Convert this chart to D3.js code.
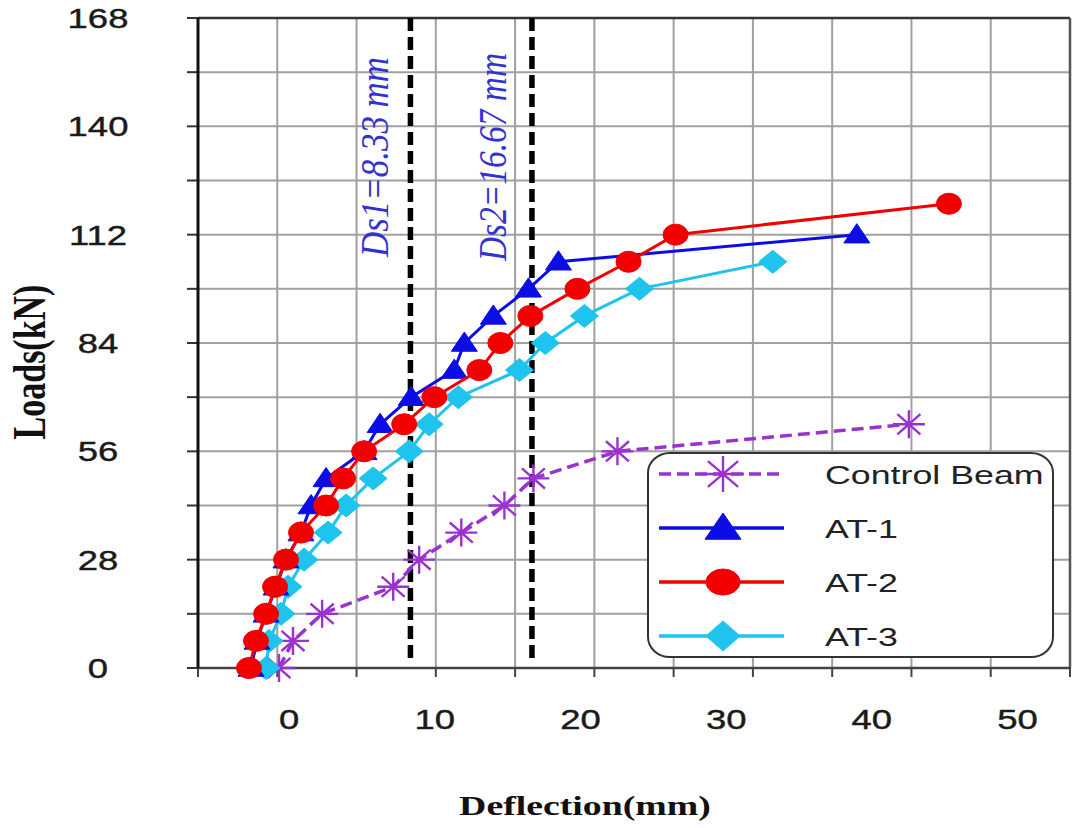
<!DOCTYPE html>
<html><head><meta charset="utf-8">
<script src="https://cdn.jsdelivr.net/npm/d3@7"></script>
<style>body{margin:0;background:#fff}svg{display:block}</style>
</head><body><svg id="c" width="1083" height="828"></svg>
<script>
// ---- data ----
const xTickLabels = [0, 10, 20, 30, 40, 50];
const yTickLabels = [0, 28, 56, 84, 112, 140, 168];
const yGridStep = 14;
const xGridCount = 11;
const dsValues = [8.33, 16.67];
const dsLabels = ["Ds1=8.33 mm", "Ds2=16.67 mm"];

const seriesNames = ["Control Beam", "AT-1", "AT-2", "AT-3"];
const loadsControl = [0, 7, 14, 21, 28, 35, 42, 49, 56, 63];
const deflControl  = [-0.69, 0.27, 2.27, 7.15, 8.93, 11.82, 14.78, 16.77, 22.54, 42.54];
const loadsAT1 = [0, 7, 14, 21, 28, 35, 42, 49, 56, 63, 70, 77, 84, 91, 98, 105, 112];
const deflAT1  = [-2.61, -2.20, -1.58, -0.89, -0.21, 0.82, 1.51, 2.54, 5.15, 6.25, 8.38, 11.34, 12.03, 14.02, 16.43, 18.49, 38.97];
const loadsAT2 = [0, 7, 14, 21, 28, 35, 42, 49, 56, 63, 70, 77, 84, 91, 98, 105, 112, 120];
const deflAT2  = [-2.75, -2.27, -1.58, -0.96, -0.21, 0.82, 2.54, 3.71, 5.15, 7.90, 9.97, 13.06, 14.50, 16.56, 19.79, 23.30, 26.53, 45.29];
const loadsAT3 = [0, 7, 14, 21, 28, 35, 42, 49, 56, 63, 70, 77, 84, 91, 98, 105];
const deflAT3  = [-1.58, -1.37, -0.55, -0.07, 1.03, 2.68, 3.92, 5.77, 8.25, 9.62, 11.62, 15.81, 17.59, 20.27, 24.05, 33.20];

const xDomain = [-6.25, 53.6];
const yDomain = [0, 168];

// ---- layout ----
const L = 198, R = 1070, T = 18, B = 668;
const SX = 1.35; // horizontal stretch of the original image
const svg = d3.select("#c");
svg.append("rect").attr("width", 1083).attr("height", 828).attr("fill", "#fff");

const x = d3.scaleLinear().domain(xDomain).range([L, R]);
const y = d3.scaleLinear().domain(yDomain).range([B, T]);
const gx = d3.scaleLinear().domain([0, xGridCount]).range([L, R]);

// grid
const yGrid = d3.range(yDomain[0], yDomain[1] + 0.1, yGridStep);
const xGrid = d3.range(0, xGridCount + 1);
svg.append("g").selectAll("line").data(yGrid).join("line")
  .attr("x1", L).attr("x2", R).attr("y1", d => y(d)).attr("y2", d => y(d))
  .attr("stroke", "#a0a0a0").attr("stroke-width", 2);
svg.append("g").selectAll("line").data(xGrid).join("line")
  .attr("x1", d => gx(d)).attr("x2", d => gx(d)).attr("y1", T).attr("y2", B)
  .attr("stroke", "#a0a0a0").attr("stroke-width", 2);

// ticks
svg.append("g").selectAll("line").data(yGrid).join("line")
  .attr("x1", L - 11).attr("x2", L).attr("y1", d => y(d)).attr("y2", d => y(d))
  .attr("stroke", "#333").attr("stroke-width", 2);
svg.append("g").selectAll("line").data(xGrid).join("line")
  .attr("x1", d => gx(d)).attr("x2", d => gx(d)).attr("y1", B).attr("y2", B + 9)
  .attr("stroke", "#444").attr("stroke-width", 2);

// frame
svg.append("line").attr("x1", L).attr("x2", R).attr("y1", T).attr("y2", T).attr("stroke", "#333").attr("stroke-width", 2.5);
svg.append("line").attr("x1", R).attr("x2", R).attr("y1", T).attr("y2", B).attr("stroke", "#555").attr("stroke-width", 2.5);
svg.append("line").attr("x1", L).attr("x2", R).attr("y1", B).attr("y2", B).attr("stroke", "#444").attr("stroke-width", 2.5);
svg.append("line").attr("x1", L).attr("x2", L).attr("y1", T).attr("y2", B).attr("stroke", "#111").attr("stroke-width", 3);

// tick labels
const tickFont = "'Liberation Sans', Arial, sans-serif";
svg.append("g").selectAll("text").data(yTickLabels).join("text")
  .attr("transform", d => `translate(98,${y(d) + 10}) scale(${SX},1)`)
  .attr("text-anchor", "middle").attr("font-family", tickFont).attr("font-size", 27)
  .attr("fill", "#1a1a1a").attr("stroke", "#1a1a1a").attr("stroke-width", 0.4).text(d => d);
svg.append("g").selectAll("text").data(xTickLabels).join("text")
  .attr("transform", d => `translate(${x(d)},729) scale(${SX},1)`)
  .attr("text-anchor", "middle").attr("font-family", tickFont).attr("font-size", 27)
  .attr("fill", "#1a1a1a").attr("stroke", "#1a1a1a").attr("stroke-width", 0.4).text(d => d);

// axis titles
const serif = "'Liberation Serif', 'Times New Roman', serif";
svg.append("text").attr("transform", `translate(585,815) scale(${SX},1)`)
  .attr("text-anchor", "middle").attr("font-family", serif).attr("font-weight", "bold")
  .attr("font-size", 28).attr("fill", "#111").text("Deflection(mm)");
svg.append("text").attr("transform", `translate(30,362) scale(${SX},1) rotate(-90)`)
  .attr("text-anchor", "middle").attr("dominant-baseline", "central")
  .attr("font-family", serif).attr("font-weight", "bold")
  .attr("font-size", 34).attr("fill", "#111").text("Loads(kN)");

// Ds lines
svg.append("g").selectAll("line").data(dsValues).join("line")
  .attr("x1", d => x(d)).attr("x2", d => x(d)).attr("y1", T).attr("y2", 658)
  .attr("stroke", "#000").attr("stroke-width", 5.5).attr("stroke-dasharray", "13,6");
const dsLabelX = [-36, -40];
svg.append("g").selectAll("text").data(dsLabels).join("text")
  .attr("transform", (d, i) => `translate(${x(dsValues[i]) + dsLabelX[i]},157) scale(${SX},1) rotate(-90)`)
  .attr("text-anchor", "middle").attr("dominant-baseline", "central")
  .attr("font-family", serif).attr("font-style", "italic").attr("font-size", 29)
  .attr("fill", "#3232d2").attr("textLength", (d, i) => i === 0 ? 200 : 208).attr("lengthAdjust", "spacingAndGlyphs")
  .text(d => d);

// markers
function markerPath(type, rx, ry) {
  if (type === "star") {
    const a = rx * 0.72, b = ry * 0.72;
    return `M${-rx},0L${rx},0M0,${-ry}L0,${ry}M${-a},${-b}L${a},${b}M${-a},${b}L${a},${-b}`;
  }
  if (type === "triangle") return `M0,${-ry}L${rx},${ry * 0.75}L${-rx},${ry * 0.75}Z`;
  if (type === "diamond") return `M0,${-ry}L${rx},0L0,${ry}L${-rx},0Z`;
  return `M${-rx},0A${rx},${ry} 0 1,0 ${rx},0A${rx},${ry} 0 1,0 ${-rx},0Z`;
}

const series = [
  { name: seriesNames[0], xs: deflControl, ys: loadsControl, color: "#9a32d0", dash: "12,6", marker: "star", size: [16, 14], lsize: [21, 18] },
  { name: seriesNames[1], xs: deflAT1, ys: loadsAT1, color: "#0c0ce6", dash: null, marker: "triangle", size: [13, 11], lsize: [18, 15] },
  { name: seriesNames[2], xs: deflAT2, ys: loadsAT2, color: "#f20000", dash: null, marker: "circle", size: [12.5, 10.5], lsize: [17, 13] },
  { name: seriesNames[3], xs: deflAT3, ys: loadsAT3, color: "#1ec3ee", dash: null, marker: "diamond", size: [14, 11.5], lsize: [17, 15] }
];
const drawOrder = [0, 3, 1, 2];
const line = d3.line().x(d => x(d[0])).y(d => y(d[1]));
drawOrder.forEach(i => {
  const s = series[i];
  const pts = s.xs.map((v, k) => [v, s.ys[k]]);
  const g = svg.append("g");
  g.append("path").attr("d", line(pts)).attr("fill", "none")
    .attr("stroke", s.color).attr("stroke-width", s.marker === "star" ? 3.5 : 3)
    .attr("stroke-dasharray", s.dash);
  g.selectAll("path.m").data(pts).join("path").attr("class", "m")
    .attr("transform", d => `translate(${x(d[0])},${y(d[1])})`)
    .attr("d", markerPath(s.marker, s.size[0], s.size[1]))
    .attr("fill", s.marker === "star" ? "none" : s.color)
    .attr("stroke", s.color).attr("stroke-width", s.marker === "star" ? 2.4 : 1);
});

// legend
const lg = svg.append("g");
lg.append("rect").attr("x", 648).attr("y", 453).attr("width", 405).attr("height", 204)
  .attr("rx", 22).attr("ry", 20).attr("fill", "#fff").attr("stroke", "#333").attr("stroke-width", 2);
const rowY = d3.scaleLinear().domain([0, 3]).range([474, 636]);
series.forEach((s, i) => {
  const yy = rowY(i);
  lg.append("line").attr("x1", 659).attr("x2", 784).attr("y1", yy).attr("y2", yy)
    .attr("stroke", s.color).attr("stroke-width", 3.5).attr("stroke-dasharray", s.dash);
  lg.append("path").attr("transform", `translate(723,${yy})`)
    .attr("d", markerPath(s.marker, s.lsize[0], s.lsize[1]))
    .attr("fill", s.marker === "star" ? "none" : s.color)
    .attr("stroke", s.color).attr("stroke-width", s.marker === "star" ? 2.4 : 1);
  lg.append("text").attr("transform", `translate(825,${yy + 10}) scale(${SX},1)`)
    .attr("font-family", tickFont).attr("font-size", 26.5).attr("fill", "#222").text(s.name);
});
</script></body></html>
